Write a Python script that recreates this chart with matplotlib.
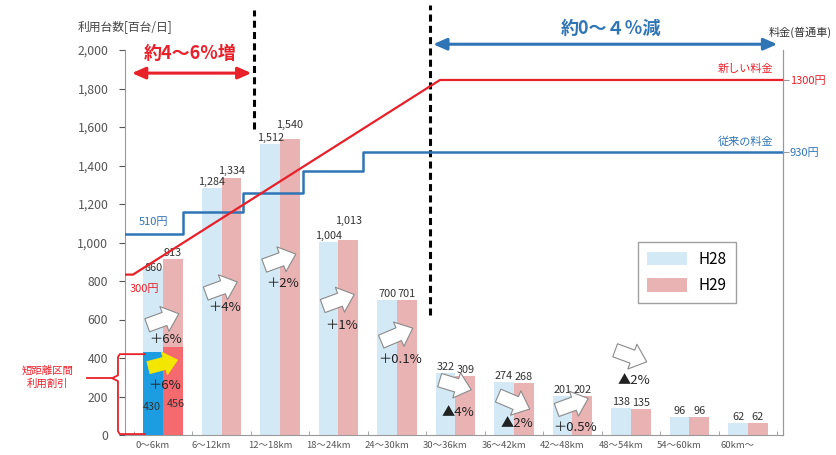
import matplotlib
matplotlib.use("Agg")
import matplotlib.pyplot as plt
import numpy as np
from matplotlib.patches import Patch
from matplotlib.ticker import FuncFormatter
import matplotlib.transforms as mtransforms

plt.rcParams['font.family'] = ['Noto Sans CJK JP', 'DejaVu Sans']

# ---------------- data ----------------
categories = ["0～6km", "6～12km", "12～18km", "18～24km", "24～30km", "30～36km",
              "36～42km", "42～48km", "48～54km", "54～60km", "60km～"]
h28 = [860, 1284, 1512, 1004, 700, 322, 274, 201, 138, 96, 62]
h29 = [913, 1334, 1540, 1013, 701, 309, 268, 202, 135, 96, 62]
short_h28 = 430   # short-distance discount portion (0-6km)
short_h29 = 456
change_labels = ["＋6%", "＋4%", "＋2%", "＋1%", "＋0.1%", "▲4%", "▲2%", "＋0.5%", "▲2%"]
short_change_label = "＋6%"

fare_old_km = [0, 6, 12, 18, 24, 66]
fare_old = [510, 620, 720, 830, 930, 930]
fare_new_km = [0, 1, 31.7, 66]
fare_new = [300, 300, 1300, 1300]

# ---------------- style ----------------
C_H28 = '#d3e9f6'
C_H29 = '#eab3b3'
C_SB = '#1c9de2'
C_SR = '#f56a6e'
C_RED = '#e8202a'
C_BLUE = '#2f75b6'
C_GRAY = '#555555'

fig = plt.figure(figsize=(8.37, 4.55), dpi=100)
ax = fig.add_axes([125/837, 20/455, 658/837, 385/455])
x = np.arange(len(categories))
w = 0.34

ax.bar(x - w/2, h28, w, color=C_H28, zorder=2)
ax.bar(x + w/2, h29, w, color=C_H29, zorder=2)
ax.bar(x[0] - w/2, short_h28, w, color=C_SB, zorder=3)
ax.bar(x[0] + w/2, short_h29, w, color=C_SR, zorder=3)

ax.set_xlim(-0.65, 10.6)
ax.set_ylim(0, 2000)
ax.set_yticks(np.arange(0, 2001, 200))
ax.yaxis.set_major_formatter(FuncFormatter(lambda v, p: f"{int(v):,}"))
ax.tick_params(axis='y', labelsize=8.8, colors=C_GRAY, length=4, pad=8)
ax.set_xticks(x)
ax.set_xticklabels(categories, fontsize=6.8, color=C_GRAY)
ax.tick_params(axis='x', length=0, pad=4)
offset = mtransforms.ScaledTranslation(-10/100, 0, fig.dpi_scale_trans)
for lbl in ax.get_xticklabels():
    lbl.set_transform(lbl.get_transform() + offset)
ax.set_xticks(np.arange(-0.5, 10.6, 1.0), minor=True)
ax.tick_params(axis='x', which='minor', length=3, color='#999999', direction='in')
ax.spines['top'].set_visible(False)
ax.spines['left'].set_color('#999999')
ax.spines['bottom'].set_color('#999999')
ax.spines['right'].set_color('#999999')

# value labels
for i in range(len(categories)):
    a, b = h28[i], h29[i]
    bump = max(0.0, 80 - 1.5 * abs(b - a)) if a >= 1000 else 0
    ay = a - 20 if i == 0 else a + 5
    ax.text(i - w/2, ay, f"{a:,}", ha='center', va='bottom', fontsize=7.8, color='#333333', zorder=5)
    ax.text(i + w/2, b + 5 + bump, f"{b:,}", ha='center', va='bottom', fontsize=7.8, color='#333333', zorder=5)
ax.text(-w/2 - 0.03, 120, f"{short_h28}", ha='center', va='bottom', fontsize=7.8, color='#333333', zorder=5)
ax.text(w/2 + 0.05, 135, f"{short_h29}", ha='center', va='bottom', fontsize=7.8, color='#333333', zorder=5)

# change arrows
arrow_pos = [(0, 600, 60, 495), (1, 765, 60, 660), (2, 910, 60, 785), (3, 700, 60, 570),
             (4, 520, 70, 390), (5, 260, -50, 115), (6, 170, -70, 60), (7, 160, 60, 40),
             (8, 410, -60, 285)]
arrow_style = 'simple,head_length=0.55,head_width=0.95,tail_width=0.5'
for (ci, yv, dy, ty), lab in zip(arrow_pos, change_labels):
    ax.annotate('', xy=(ci + 0.27, yv + dy/2), xytext=(ci - 0.27, yv - dy/2),
                arrowprops=dict(arrowstyle=arrow_style, fc='white', ec='#8a8a8a', lw=0.8,
                                mutation_scale=20, shrinkA=0, shrinkB=0), zorder=6)
    ax.text(ci + 0.05, ty, lab, ha='center', va='center', fontsize=9.5, color='#222222', zorder=6)
ax.annotate('', xy=(0.25, 390), xytext=(-0.25, 350),
            arrowprops=dict(arrowstyle=arrow_style, fc='#f3e600', ec='#f3e600', lw=0.5,
                            mutation_scale=18, shrinkA=0, shrinkB=0), zorder=6)
ax.text(0.02, 255, short_change_label, ha='center', va='center', fontsize=9.5, color='#222222', zorder=6)

# dashed separators
ax.plot([1.56, 1.56], [1590, 2210], ls=(0, (2.3, 1.4)), lw=2.2, color='black', clip_on=False, zorder=7)
ax.plot([4.57, 4.57], [625, 2235], ls=(0, (2.3, 1.4)), lw=2.2, color='black', clip_on=False, zorder=7)

# range arrows and texts
ax.annotate('', xy=(1.56, 1880), xytext=(-0.58, 1880),
            arrowprops=dict(arrowstyle='<|-|>,head_length=0.8,head_width=0.35', color=C_RED, lw=2.2),
            annotation_clip=False)
ax.text(0.47, 1980, "約4～6%増", ha='center', va='center', fontsize=13, color=C_RED,
        fontweight='bold', clip_on=False)
ax.annotate('', xy=(10.55, 2030), xytext=(4.57, 2030),
            arrowprops=dict(arrowstyle='<|-|>,head_length=0.8,head_width=0.35', color=C_BLUE, lw=2.2),
            annotation_clip=False)
ax.text(7.65, 2110, "約0～４％減", ha='center', va='center', fontsize=13, color=C_BLUE,
        fontweight='bold', clip_on=False)
fig.text(78/837, 1 - 28/455, "利用台数[百台/日]", ha='left', va='center', fontsize=8.5, color='#444444')
fig.text(832/837, 1 - 32/455, "料金(普通車)", ha='right', va='center', fontsize=8, color='#333333')

# short-distance discount brace
bx = -0.77
ax.plot([-0.31, bx + 0.03, bx, bx, bx - 0.1, bx, bx, bx + 0.03, -0.31],
        [420, 420, 405, 310, 295, 280, 20, 5, 5], color=C_RED, lw=1.3, clip_on=False, zorder=4)
ax.plot([-1.3, bx - 0.1], [295, 295], color=C_RED, lw=1.3, clip_on=False)
ax.text(-1.97, 300, "短距離区間\n利用割引", ha='center', va='center', fontsize=7.5,
        color=C_RED, linespacing=1.3, clip_on=False)

# legend
handles = [Patch(facecolor=C_H28, label='H28'), Patch(facecolor=C_H29, label='H29')]
fig.legend(handles=handles, loc='upper left', bbox_to_anchor=(630/837, 1 - 234/455),
           fontsize=11, frameon=True, fancybox=False, edgecolor='#888888',
           handlelength=2.6, handleheight=1.0, borderpad=0.6, labelspacing=0.6)

# fare axes
axf = ax.twinx()
axf.set_ylim(-524, 1454)
axf.set_yticks([930, 1300])
axf.set_yticklabels(["930円", "1300円"])
for t, c in zip(axf.get_yticklabels(), [C_BLUE, C_RED]):
    t.set_color(c)
axf.tick_params(axis='y', labelsize=8, length=4, pad=1, color='#999999')
for s in ['top', 'left', 'bottom']:
    axf.spines[s].set_visible(False)
axf.spines['right'].set_color('#999999')

axk = axf.twiny()
axk.set_xlim(0.2, 66)
axk.plot(fare_old_km, fare_old, drawstyle='steps-post', color=C_BLUE, lw=1.8, zorder=8)
axk.plot(fare_new_km, fare_new, color=C_RED, lw=1.6, zorder=8)
axk.xaxis.set_visible(False)
for s in axk.spines.values():
    s.set_visible(False)

axk.text(65, 1355, "新しい料金", ha='right', va='center', fontsize=8, color=C_RED)
axk.text(65, 982, "従来の料金", ha='right', va='center', fontsize=8, color=C_BLUE)
axk.text(1.6, 570, "510円", ha='left', va='center', fontsize=8, color=C_BLUE)
axk.text(0.7, 225, "300円", ha='left', va='center', fontsize=8, color=C_RED)

fig.savefig("out.png", dpi=100)
